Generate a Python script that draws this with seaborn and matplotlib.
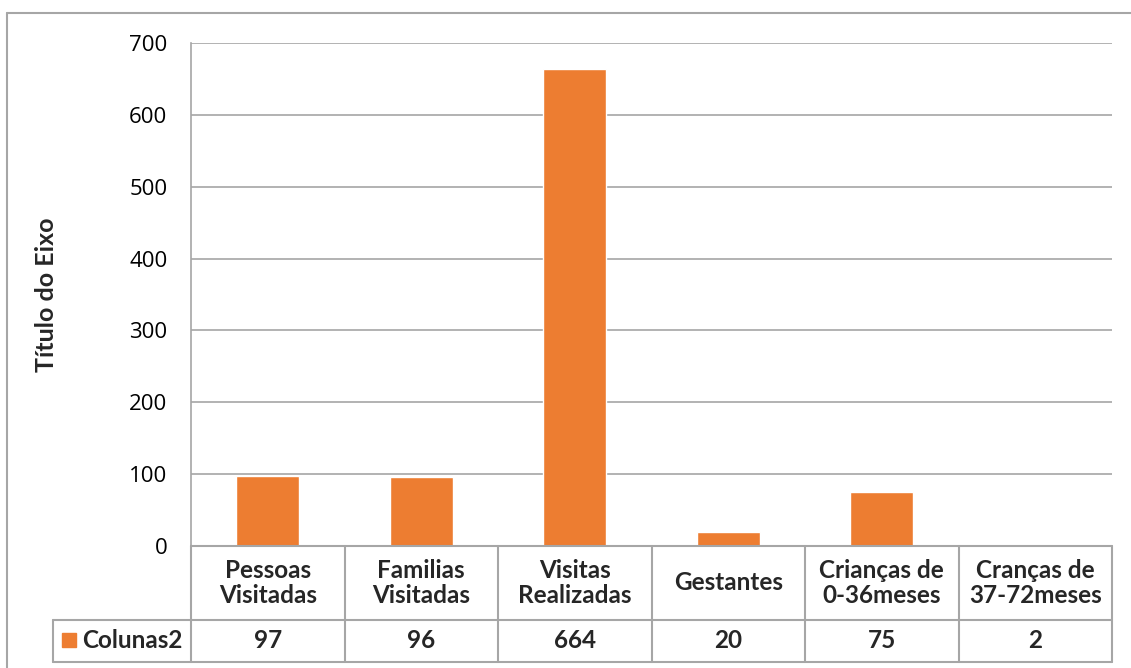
import matplotlib
matplotlib.use('Agg')
import matplotlib.pyplot as plt
import seaborn as sns
import pandas as pd
from matplotlib.lines import Line2D
from matplotlib.patches import Rectangle

# dados
categorias = ["Pessoas\nVisitadas", "Familias\nVisitadas", "Visitas\nRealizadas",
              "Gestantes", "Crianças de\n0-36meses", "Cranças de\n37-72meses"]
valores = [97, 96, 664, 20, 75, 2]
serie = "Colunas2"
y_ticks = [0, 100, 200, 300, 400, 500, 600, 700]

LARANJA = '#ED7D31'
CINZA = '#A6A6A6'
W, H = 1131, 668

sns.set_theme(style="white")
plt.rcParams['font.family'] = ['Lato', 'DejaVu Sans']

fig = plt.figure(figsize=(W / 100, H / 100), dpi=100)

def fx(px):
    return px / W

def fy(py):
    return 1 - py / H

# área do gráfico (em pixels da imagem)
left, right, top, zero = 191, 1112, 43, 546
ax = fig.add_axes([fx(left), fy(zero), fx(right - left), (zero - top) / H])

df = pd.DataFrame({"cat": categorias, "val": valores})
sns.barplot(data=df, x="cat", y="val", color=LARANJA, saturation=1, width=0.41, ax=ax)

ax.set_ylim(0, 700)
ax.set_xlim(-0.5, len(categorias) - 0.5)
ax.set_yticks(y_ticks)
ax.set_yticklabels([str(v) for v in y_ticks], family=['Open Sans', 'DejaVu Sans'], fontsize=16)
ax.tick_params(axis='y', length=0, pad=17, colors='black')
ax.set_xticks([])
ax.set_xlabel("")
ax.set_ylabel("Título do Eixo", fontsize=18, fontweight='bold')
ax.yaxis.set_label_coords((58 - left) / (right - left), 0.5)
ax.yaxis.grid(True, color=CINZA, linewidth=1.2)
ax.set_axisbelow(True)
for s in ['top', 'right', 'bottom']:
    ax.spines[s].set_visible(False)
ax.spines['left'].set_color(CINZA)
ax.spines['left'].set_linewidth(1.2)

# tabela de dados
def hline(y, x0, x1):
    fig.add_artist(Line2D([fx(x0), fx(x1)], [fy(y), fy(y)], color=CINZA, lw=1.5))

def vline(x, y0, y1):
    fig.add_artist(Line2D([fx(x), fx(x)], [fy(y0), fy(y1)], color=CINZA, lw=1.5))

row1, row2 = 620, 662
legx = 53
colw = (right - left) / len(categorias)
hline(zero, left, right)
hline(row1, legx, right)
hline(row2, legx, right)
vline(legx, row1, row2)
for k in range(len(categorias) + 1):
    vline(left + k * colw, zero, row2)

for k, (c, v) in enumerate(zip(categorias, valores)):
    cx = left + (k + 0.5) * colw
    fig.text(fx(cx), fy((zero + row1) / 2), c, ha='center', va='center',
             fontsize=17.5, fontweight='bold', linespacing=1.1)
    fig.text(fx(cx), fy((row1 + row2) / 2), str(v), ha='center', va='center',
             fontsize=17.5, fontweight='bold')

fig.add_artist(Rectangle((fx(62), fy(647)), fx(14), 14 / H, color=LARANJA,
                         transform=fig.transFigure))
fig.text(fx(82), fy((row1 + row2) / 2), serie, ha='left', va='center',
         fontsize=17.5, fontweight='bold')

# moldura externa
fig.add_artist(Line2D([fx(7), fx(7)], [fy(13), 0], color=CINZA, lw=1.5))
fig.add_artist(Line2D([fx(7), 1], [fy(13), fy(13)], color=CINZA, lw=1.5))

fig.savefig("out.png", dpi=100)
